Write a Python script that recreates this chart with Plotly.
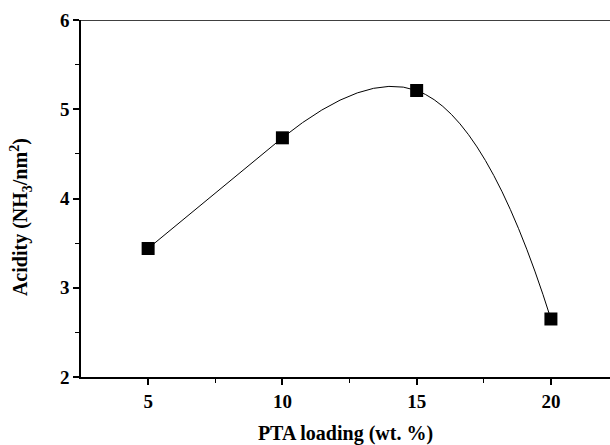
import plotly.graph_objects as go

loading = [5, 10, 15, 20]
acidity = [3.44, 4.68, 5.21, 2.65]
x_ticks = [5, 10, 15, 20]
y_ticks = [2, 3, 4, 5, 6]

font = "Liberation Serif"

fig = go.Figure()
# first segment nearly straight, then smooth curve over the rest
fig.add_trace(go.Scatter(
    x=loading[:2], y=acidity[:2], mode="lines",
    line=dict(color="black", width=1), showlegend=False, hoverinfo="skip",
))
fig.add_trace(go.Scatter(
    x=loading[1:], y=acidity[1:], mode="lines",
    line=dict(color="black", width=1, shape="spline", smoothing=1.3),
    showlegend=False, hoverinfo="skip",
))
fig.add_trace(go.Scatter(
    x=loading, y=acidity, mode="markers",
    marker=dict(symbol="square", size=13, color="black"),
    showlegend=False,
))

fig.update_layout(
    width=610, height=445,
    margin=dict(l=81, r=0, t=20, b=68),
    paper_bgcolor="white", plot_bgcolor="white",
    font=dict(family=font, color="black"),
    xaxis=dict(
        range=[2.5, 22.2], tickvals=x_ticks, ticktext=[f"<b>{v}</b>" for v in x_ticks],
        showgrid=False, zeroline=False,
        showline=True, linecolor="black", linewidth=1.5,
        ticks="outside", ticklen=6, tickwidth=1.5, tickcolor="black",
        tickfont=dict(family=font, size=19, color="black"),
        minor=dict(tickvals=[7.5, 12.5, 17.5], ticks="outside", ticklen=4, tickwidth=1.2, tickcolor="black"),
        title=dict(text="<b>PTA loading (wt. %)</b>", font=dict(family=font, size=20), standoff=16),
    ),
    yaxis=dict(
        range=[2, 6], tickvals=y_ticks, ticktext=[f"<b>{v}</b>" for v in y_ticks],
        showgrid=False, zeroline=False,
        showline=True, linecolor="black", linewidth=1.5,
        ticks="outside", ticklen=6, tickwidth=1.5, tickcolor="black",
        tickfont=dict(family=font, size=19, color="black"),
        minor=dict(tickvals=[2.5, 3.5, 4.5, 5.5], ticks="outside", ticklen=4, tickwidth=1.2, tickcolor="black"),
    ),
    annotations=[dict(
        text="<b>Acidity (NH<sub>3</sub>/nm<sup>2</sup>)</b>",
        xref="paper", yref="paper", x=-0.1134, y=0.448,
        xanchor="center", yanchor="middle", textangle=-90, showarrow=False,
        font=dict(family=font, size=20, color="black"),
    )],
    shapes=[dict(type="line", xref="paper", yref="y", x0=0, x1=1, y0=6, y1=6,
                 line=dict(color="black", width=1.5))],
)

fig.write_html("out.html")
